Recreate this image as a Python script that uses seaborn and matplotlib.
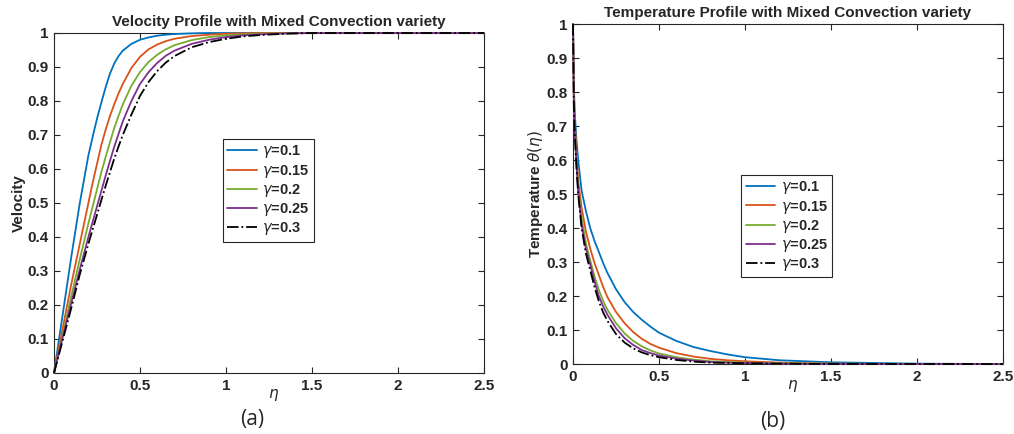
import numpy as np
import pandas as pd
import seaborn as sns
import matplotlib
matplotlib.use("Agg")
import matplotlib.pyplot as plt

# values
gammas = ['0.1', '0.15', '0.2', '0.25', '0.3']

eta_v = [0, 0.05, 0.1, 0.15, 0.2, 0.225, 0.25, 0.275, 0.3, 0.325, 0.35, 0.375,
         0.4, 0.45, 0.5, 0.55, 0.6, 0.65, 0.7, 0.8, 0.9, 1.0, 1.1, 1.2, 1.35,
         1.5, 2.0, 2.5]
vel_01 = [0, 0.17, 0.34, 0.5, 0.64, 0.695, 0.748, 0.795, 0.84, 0.88, 0.91,
          0.932, 0.948, 0.968, 0.98, 0.987, 0.992, 0.995, 0.997, 0.999, 1, 1,
          1, 1, 1, 1, 1, 1]
vel_015 = [0, 0.13, 0.26, 0.38, 0.5, 0.56, 0.615, 0.67, 0.715, 0.755, 0.79,
           0.822, 0.85, 0.897, 0.93, 0.952, 0.966, 0.976, 0.983, 0.991, 0.995,
           0.998, 0.999, 1, 1, 1, 1, 1]
vel_02 = [0, 0.11, 0.225, 0.335, 0.44, 0.49, 0.54, 0.59, 0.635, 0.678, 0.72,
          0.756, 0.79, 0.845, 0.885, 0.915, 0.936, 0.952, 0.964, 0.979, 0.988,
          0.993, 0.996, 0.998, 0.999, 1, 1, 1]
vel_025 = [0, 0.104, 0.205, 0.305, 0.4, 0.445, 0.49, 0.535, 0.58, 0.623, 0.665,
           0.703, 0.74, 0.8, 0.85, 0.885, 0.912, 0.933, 0.948, 0.968, 0.98,
           0.988, 0.993, 0.996, 0.999, 1, 1, 1]
vel_03 = [0, 0.095, 0.19, 0.29, 0.38, 0.423, 0.465, 0.508, 0.55, 0.59, 0.63,
          0.666, 0.7, 0.76, 0.815, 0.856, 0.888, 0.913, 0.932, 0.958, 0.973,
          0.983, 0.99, 0.994, 0.998, 1, 1, 1]

eta_t = [0, 0.005, 0.01, 0.02, 0.03, 0.05, 0.075, 0.1, 0.125, 0.15, 0.175,
         0.2, 0.25, 0.3, 0.35, 0.4, 0.45, 0.5, 0.6, 0.7, 0.8, 0.9, 1.0, 1.2,
         1.5, 2.0, 2.5]
temp_01 = [1, 0.82, 0.74, 0.66, 0.6, 0.51, 0.45, 0.4, 0.362, 0.33, 0.297,
           0.268, 0.22, 0.182, 0.153, 0.13, 0.11, 0.092, 0.068, 0.05, 0.038,
           0.028, 0.02, 0.011, 0.005, 0.001, 0]
temp_015 = [1, 0.8, 0.72, 0.62, 0.54, 0.46, 0.39, 0.34, 0.297, 0.262, 0.227,
            0.197, 0.153, 0.12, 0.094, 0.074, 0.059, 0.048, 0.032, 0.022,
            0.015, 0.011, 0.008, 0.004, 0.001, 0, 0]
temp_02 = [1, 0.78, 0.7, 0.6, 0.52, 0.43, 0.355, 0.305, 0.258, 0.218, 0.186,
           0.16, 0.12, 0.09, 0.068, 0.052, 0.04, 0.031, 0.02, 0.013, 0.008,
           0.006, 0.004, 0.002, 0.0005, 0, 0]
temp_025 = [1, 0.77, 0.69, 0.59, 0.51, 0.41, 0.34, 0.293, 0.243, 0.2, 0.17,
            0.145, 0.105, 0.076, 0.056, 0.041, 0.032, 0.025, 0.016, 0.01,
            0.006, 0.004, 0.003, 0.001, 0, 0, 0]
temp_03 = [1, 0.76, 0.68, 0.58, 0.5, 0.4, 0.325, 0.276, 0.227, 0.185, 0.152,
           0.127, 0.088, 0.063, 0.046, 0.034, 0.026, 0.02, 0.012, 0.007, 0.004,
           0.003, 0.002, 0.001, 0, 0, 0]

colors = ['#0072BD', '#D95319', '#77AC30', '#7E2F8E', 'black']
styles = ['-', '-', '-', '-', '-.']

sns.set_style("ticks")
plt.rcParams['font.family'] = ['Liberation Sans', 'DejaVu Sans']
plt.rcParams['mathtext.fontset'] = 'dejavusans'


def draw_panel(ax, eta, series, title, ylabel, leg_anchor, title_x):
    for vals, g, c, ls in zip(series, gammas, colors, styles):
        sns.lineplot(x=eta, y=vals, ax=ax, color=c, linestyle=ls, lw=1.3,
                     label=r'$\gamma$=' + g, sort=False)
    # matlab draws the lines over the box
    for ln in ax.lines:
        ln.set_clip_on(False)
        ln.set_zorder(3)
    ax.set_xlim(0, 2.5)
    ax.set_ylim(0, 1)
    ax.set_xticks([0, 0.5, 1, 1.5, 2, 2.5])
    ax.set_xticklabels(['0', '0.5', '1', '1.5', '2', '2.5'])
    ax.set_yticks(np.arange(0, 1.01, 0.1))
    ax.set_yticklabels(['0', '0.1', '0.2', '0.3', '0.4', '0.5', '0.6', '0.7',
                        '0.8', '0.9', '1'])
    ax.tick_params(direction='in', top=True, right=True, length=4, width=0.8,
                   labelsize=11, colors='#262626', pad=4)
    for lab in ax.get_xticklabels() + ax.get_yticklabels():
        lab.set_fontweight('bold')
    for sp in ax.spines.values():
        sp.set_color('#262626')
        sp.set_linewidth(0.8)
        sp.set_visible(True)
    ax.set_title(title, fontsize=11, fontweight='bold', pad=5, x=title_x)
    ax.set_ylabel(ylabel, fontsize=11, fontweight='bold', color='#262626')
    ax.set_xlabel(r'$\eta$', fontsize=11, color='#262626')
    ax.xaxis.set_label_coords(0.51, -0.04)
    ax.yaxis.set_label_coords(-0.066, 0.5)
    leg = ax.legend(loc='upper left', bbox_to_anchor=leg_anchor,
                    prop={'weight': 'bold', 'size': 10.5}, frameon=True,
                    fancybox=False, edgecolor='#262626', framealpha=1,
                    handlelength=2.0, labelspacing=0.15, borderpad=0.3,
                    handletextpad=0.4, borderaxespad=0)
    leg.get_frame().set_linewidth(0.8)


fig = plt.figure(figsize=(10.14, 4.34), dpi=100)
ax1 = fig.add_axes([54 / 1014, 61 / 434, 430 / 1014, 340 / 434])
ax2 = fig.add_axes([573 / 1014, 70 / 434, 430 / 1014, 340 / 434])

draw_panel(ax1, eta_v, [vel_01, vel_015, vel_02, vel_025, vel_03],
           'Velocity Profile with Mixed Convection variety', 'Velocity',
           (0.393, 0.688), 0.523)
draw_panel(ax2, eta_t, [temp_01, temp_015, temp_02, temp_025, temp_03],
           'Temperature Profile with Mixed Convection variety',
           r'Temperature $\theta(\eta)$', (0.391, 0.556), 0.5)

fig.text(252 / 1014, 1 - 420 / 434, '(a)', fontsize=15, ha='center',
         va='center', family=['Open Sans', 'DejaVu Sans'])
fig.text(773 / 1014, 1 - 422 / 434, '(b)', fontsize=15, ha='center',
         va='center', family=['Open Sans', 'DejaVu Sans'])

fig.savefig('out.png', dpi=100)
